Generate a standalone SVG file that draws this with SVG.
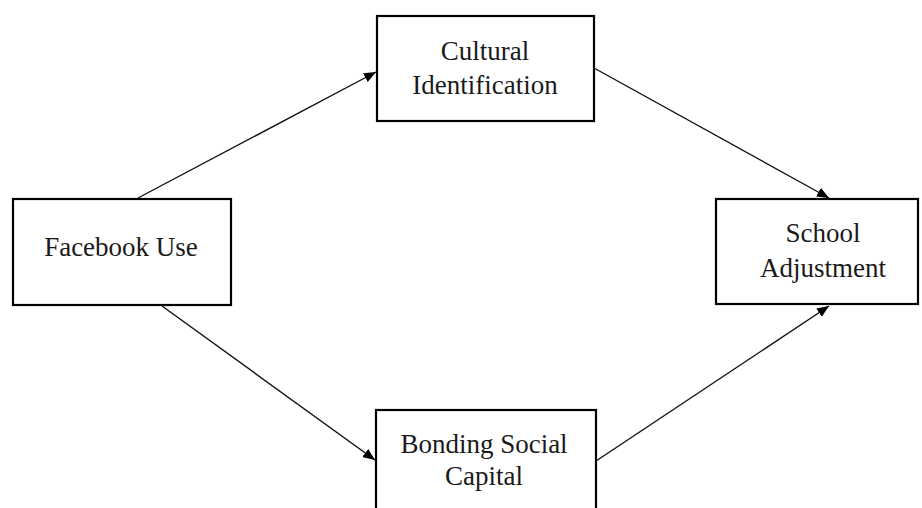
<svg xmlns="http://www.w3.org/2000/svg" width="922" height="508" viewBox="0 0 922 508">
  <style>
    .box { fill: #ffffff; stroke: #000000; stroke-width: 2.2; }
    .label { font-family: "Liberation Serif", "Times New Roman", serif; font-size: 27px; fill: #1a1a1a; text-anchor: middle; }
    .edge { stroke: #111111; stroke-width: 1.4; fill: none; marker-end: url(#arrow); }
  </style>
  <defs>
    <marker id="arrow" viewBox="0 0 12 10" refX="12" refY="5" markerWidth="12" markerHeight="10" markerUnits="userSpaceOnUse" orient="auto">
      <path d="M0,0 L12,5 L0,10 Z" fill="#000000"/>
    </marker>
  </defs>

  <rect width="922" height="508" fill="#ffffff"/>

  <!-- connectors -->
  <g id="connectors">
    <line class="edge" x1="138" y1="198" x2="376" y2="72"/>
    <line class="edge" x1="594" y1="68" x2="829" y2="198"/>
    <line class="edge" x1="162" y1="306" x2="375" y2="460"/>
    <line class="edge" x1="596" y1="461" x2="829" y2="306"/>
  </g>

  <!-- nodes -->
  <g id="facebook-use">
    <rect class="box" x="13" y="199" width="218" height="106"/>
    <text class="label" x="121" y="256">Facebook Use</text>
  </g>

  <g id="cultural-identification">
    <rect class="box" x="377" y="16" width="217" height="105"/>
    <text class="label" x="485" y="60">Cultural</text>
    <text class="label" x="485" y="94">Identification</text>
  </g>

  <g id="bonding-social-capital">
    <rect class="box" x="376" y="410" width="220" height="110"/>
    <text class="label" x="484" y="453">Bonding Social</text>
    <text class="label" x="484" y="485">Capital</text>
  </g>

  <g id="school-adjustment">
    <rect class="box" x="716" y="199" width="202" height="105"/>
    <text class="label" x="823" y="242">School</text>
    <text class="label" x="823" y="277">Adjustment</text>
  </g>
</svg>
